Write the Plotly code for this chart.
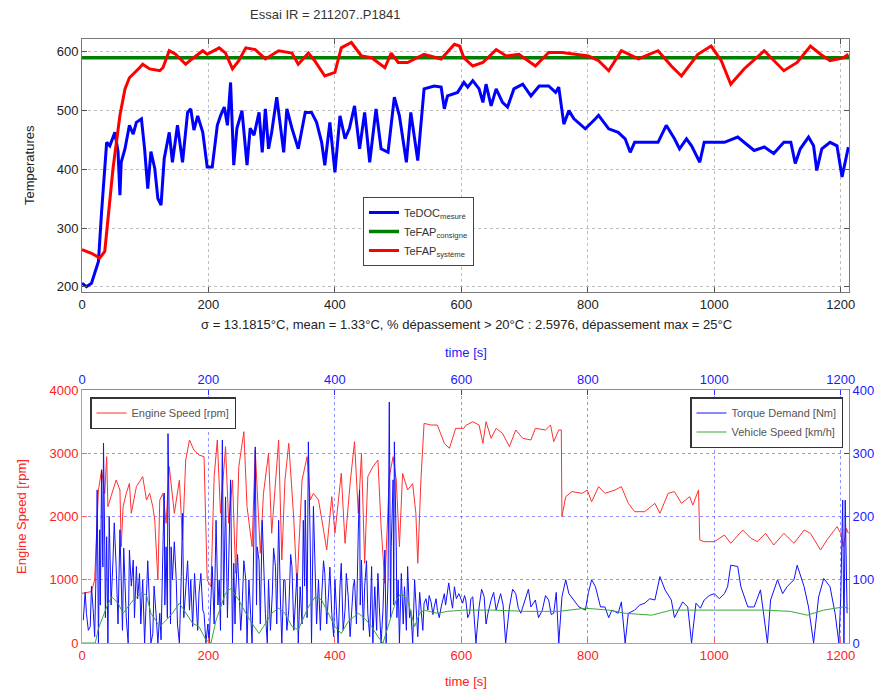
import plotly.graph_objects as go

# ---------------- Top plot data ----------------
doc_t = [0, 7, 15, 26, 31, 36, 39, 44, 52, 57, 60, 62, 68, 75, 81, 86, 94, 99, 104, 109, 115, 120, 125, 130, 138, 143,
         151, 159, 167, 172, 177, 183, 191, 198, 206, 214, 219, 225, 230, 235, 240, 245, 253, 261, 266, 272, 280, 285,
         290, 295, 300, 308, 314, 319, 324, 332, 342, 353, 363, 371, 379, 384, 392, 400, 408, 416, 423, 431, 439, 447,
         455, 465, 473, 484, 494, 502, 513, 520, 531, 541, 557, 568, 573, 578, 594, 604,
         610, 618, 628, 634, 639, 647, 655, 665, 673, 683, 697, 710, 723, 738, 749, 754, 762, 770, 778, 796, 812, 817,
         833, 848, 859, 867, 874, 890, 911, 924, 937, 945, 956, 964, 977, 984, 1000, 1016, 1037, 1053, 1063, 1079, 1094,
         1110, 1121, 1128, 1136, 1149, 1157, 1162, 1170, 1183, 1194, 1202, 1212]
doc_v = [206, 200, 206, 243, 328, 412, 446, 440, 463, 430, 356, 412, 435, 475, 460, 480, 486, 435, 367, 430, 402, 350,
         339, 418, 463, 412, 475, 412, 497, 503, 467, 491, 463, 404, 404, 475, 491, 506, 475, 548, 407, 470, 500, 407,
         470, 458, 497, 429, 503, 435, 463, 523, 470, 429, 503, 470, 435, 497, 497, 480, 446, 407, 480, 395, 491, 452,
         470, 508, 435, 497, 412, 503, 435, 429, 523, 491, 412, 497, 415, 537, 542, 540, 503, 525, 531, 548,
         540, 551, 537, 514, 545, 508, 537, 514, 506, 537, 545, 525, 542, 542, 531, 540, 477, 500, 486, 469, 486, 492,
         469, 463, 452, 429, 446, 446, 446, 475, 452, 435, 452, 440, 412, 446, 446, 446, 455, 440, 432, 438, 427,
         446, 446, 410, 435, 455, 440, 398, 435, 446, 440, 387, 438]

fap_cons_t = [0, 1213]
fap_cons_v = [590, 590]

fap_sys_t = [0, 15, 28, 36, 49, 60, 68, 75, 91, 96, 107, 123, 128, 138, 148, 164, 174, 191, 198, 217, 227, 238, 248,
             259, 274, 290, 311, 332, 342, 358, 368, 384, 400, 410, 426, 442, 458, 479, 489, 500, 515, 541, 568, 589,
             597, 604, 618, 634, 655, 671, 691, 717, 738, 759, 801, 817, 833, 853, 880, 911, 932, 948, 974, 995, 1011,
             1026, 1047, 1079, 1110, 1131, 1152, 1168, 1183, 1204, 1212]
fap_sys_v = [263, 257, 249, 260, 401, 492, 537, 556, 573, 579, 571, 568, 573, 602, 596, 579, 588, 602, 596, 607, 598,
             571, 585, 607, 604, 588, 602, 598, 579, 598, 585, 559, 565, 607, 616, 593, 590, 573, 598, 582, 582, 596,
             588, 613, 610, 590, 576, 582, 604, 593, 596, 576, 599, 599, 593, 585, 568, 602, 588, 602, 576, 559, 596,
             610, 585, 545, 571, 602, 568, 582, 610, 596, 585, 590, 596]

# ---------------- Bottom plot data ----------------
eng_t = [0, 2, 15, 20, 26, 31, 36, 39, 41, 49, 54, 60, 62, 65, 70, 75, 78, 86, 96, 102, 107, 112, 115, 120, 123, 128,
         133, 138, 146, 154, 159, 164, 170, 177, 185, 193, 198, 204, 209, 214, 219, 227, 232, 238, 243, 248, 256, 261,
         269, 274, 282, 287, 295, 300, 311, 316, 321, 327, 335, 340, 348, 356, 361, 366, 374, 382, 387, 395, 400, 410,
         416, 424, 431, 437, 442, 447, 452, 460, 468, 473, 479, 486, 492, 497, 502, 507, 515, 523, 528, 531, 536, 541,
         552, 562, 573, 581, 591, 604,
         607, 618, 628, 634, 639, 647, 655, 665, 676, 686, 697, 710, 717, 733, 741, 746, 754, 758, 759, 765, 775, 791,
         799, 806, 817, 827, 843, 853, 864, 874, 890, 906, 914, 927, 937, 948, 961, 966, 974, 975, 977, 984, 1000, 1016,
         1026, 1045, 1058, 1068, 1081, 1094, 1110, 1126, 1142, 1152, 1168, 1178, 1194, 1200, 1204, 1209, 1212]
eng_v = [785, 790, 812, 996, 2419, 2735, 2366, 2946, 2155, 2419, 2577, 2419, 1523, 2155, 2366, 2524, 2050, 2472, 2630,
         2260, 2366, 2155, 1945, 996, 2260, 2366, 1892, 2788, 2050, 2577, 1628, 2893, 3209, 3051, 2972, 2946, 996, 891,
         2630, 3209, 2050, 3104, 1892, 2577, 1101, 2788, 3341, 2155, 1523, 3051, 1418, 2366, 2999, 1734, 3209, 1312,
         2577, 3157, 1945, 891, 2577, 2946, 2260, 2366, 2260, 1786, 1470, 2314, 1734, 2682, 1576, 2524, 3183, 2050,
         2999, 1260, 2630, 2788, 2893, 1839, 943, 2630, 2946, 2577, 1523, 2682, 2419, 2519, 2050, 1260, 2577, 3473,
         3446, 3446, 3157, 3078, 3394, 3394,
         3440, 3499, 3446, 3157, 3499, 3236, 3394, 3315, 3104, 3368, 3236, 3210, 3394, 3368, 3446, 3183, 3368, 3368,
         1997, 2314, 2394, 2366, 2419, 2234, 2472, 2366, 2419, 2472, 2208, 2076, 2076, 2208, 2050, 2366, 2394, 2208,
         2314, 2180, 2419, 2419, 1628, 1602, 1602, 1707, 1576, 1786, 1655, 1602, 1734, 1549, 1734, 1576, 1786, 1734,
         1470, 1628, 1839, 1734, 1523, 1810, 1734]

torque_t = [2, 5, 7, 10, 13, 15, 18, 20, 22, 24, 26, 28, 29, 31, 33, 34, 36, 37, 39, 41, 43, 44, 46, 49, 51, 54, 57,
            60, 62, 64, 66, 68, 70, 73, 75, 78, 81, 83, 86, 88, 91, 93, 96, 99, 102, 104, 107, 109, 112, 114, 117, 120,
            123, 125, 128, 130, 131, 133, 135, 136, 138, 140, 141, 143, 146, 149, 151, 154, 157, 159, 161, 164, 167,
            170, 172, 175, 178, 180, 183, 185, 188, 191, 193, 196, 199, 201, 204, 206, 209, 212, 215, 217, 219, 222,
            224, 225, 227, 230, 232, 235, 238, 240, 242, 243, 246, 248, 251, 253, 256, 259, 261, 264, 267, 269, 272,
            274, 276, 277, 280, 282, 285, 288, 290, 293, 295, 298, 301, 303, 306, 308, 311, 314, 316, 319, 321, 324,
            327, 330, 332, 335, 337, 340, 342, 345, 348, 350, 352, 353, 356, 358, 361, 363, 366, 369, 371, 374, 377,
            379, 382, 384, 387, 390, 392, 395, 398, 400, 403, 405, 408, 410, 413, 416, 418, 421, 424, 426, 429, 431,
            434, 437, 439, 440, 442, 445, 447, 450, 452, 455, 458, 460, 463, 466, 468, 471, 473, 476, 479, 481, 484,
            486, 488, 489, 492, 493, 494, 497, 498, 500, 502, 505, 508, 510, 513, 515, 518, 520, 523, 526, 529, 531,
            534, 536, 539, 541, 544, 547, 549, 552, 555, 557, 560, 562, 565, 568, 570, 573, 575, 578, 580, 583, 586,
            589, 592, 596,
            602, 605, 607, 610, 613, 615, 618, 623, 628, 632, 636, 639, 642, 647, 651, 655, 662, 666, 670, 676, 681,
            686, 690, 694, 702, 706, 710, 717, 722, 728, 733, 738, 742, 746, 750, 754, 759, 765, 770, 778, 786, 796,
            801, 806, 812, 820, 827, 833, 838, 848, 853, 859, 864, 874, 882, 890, 898, 906, 914, 922, 932, 937, 943,
            950, 958, 964, 971, 978, 984, 992, 1000, 1008, 1016, 1021, 1026, 1037, 1042, 1053, 1063, 1068, 1073,
            1084, 1089, 1100, 1108, 1115, 1126, 1131, 1142, 1149, 1157, 1165, 1173, 1183, 1191, 1197, 1200, 1203,
            1205, 1207, 1210]
torque_v = [36, 80, 47, 20, 26, 90, 47, 10, 100, 242, 0, 179, 60, 274, 120, 316, 152, 40, 168, 0, 200, 142, 60, 131,
            190, 121, 30, 179, 110, 20, 150, 100, 40, 0, 147, 90, 131, 40, 121, 70, 110, 30, 100, 0, 89, 130, 52, 0,
            15, 90, 47, 0, 47, 5, 152, 237, 60, 152, 40, 331, 194, 30, 152, 100, 160, 100, 30, 0, 105, 205, 40, 79,
            130, 52, 100, 26, 110, 73, 20, 79, 110, 52, 47, 0, 30, 0, 79, 121, 30, 194, 60, 100, 20, 321, 60, 152,
            231, 40, 152, 258, 0, 126, 30, 79, 140, 94, 20, 52, 130, 100, 0, 100, 30, 0, 179, 310, 60, 152, 131, 30,
            194, 90, 47, 0, 100, 20, 79, 150, 121, 30, 194, 60, 0, 100, 100, 20, 52, 140, 121, 20, 57, 110, 0, 89,
            30, 194, 90, 226, 40, 318, 152, 0, 216, 115, 30, 100, 20, 73, 130, 110, 30, 79, 120, 47, 10, 100, 40, 0,
            90, 126, 20, 52, 110, 73, 10, 36, 90, 100, 30, 179, 242, 60, 131, 20, 89, 130, 47, 10, 121, 0, 89, 20,
            110, 40, 0, 52, 147, 0, 100, 381, 40, 152, 258, 60, 318, 152, 40, 100, 0, 110, 30, 89, 20, 121, 40, 52,
            0, 100, 30, 10, 80, 57, 20, 63, 70, 52, 75, 65, 45, 57, 70, 52, 40, 57, 65, 78, 60, 84, 95, 73, 55, 89,
            70, 78,
            63, 75, 68, 40, 47, 70, 73, 0, 57, 85, 73, 30, 47, 68, 80, 52, 78, 60, 0, 57, 85, 78, 55, 47, 73, 85, 57,
            68, 40, 52, 75, 68, 45, 47, 80, 0, 73, 100, 78, 68, 57, 52, 80, 100, 89, 57, 57, 40, 52, 47, 65, 0, 47,
            52, 60, 63, 70, 68, 105, 84, 68, 40, 52, 65, 57, 0, 63, 55, 68, 75, 78, 70, 78, 89, 123, 121, 89, 57, 57,
            70, 84, 0, 68, 100, 78, 89, 100, 123, 89, 57, 0, 73, 102, 89, 47, 0, 73, 226, 0, 226, 47]

veh_t = [0, 21, 26, 39, 47, 57, 65, 81, 94, 102, 109, 123, 133, 143, 154, 164, 175, 185, 196, 204, 212, 227, 235, 248,
         259, 269, 280, 287, 300, 311, 321, 332, 342, 358, 369, 379, 390, 400, 410, 421, 437, 447, 458, 468, 476, 484,
         497, 505, 515, 526, 534, 541, 562, 578, 604,
         650, 702, 754, 796, 833, 859, 901, 932, 964, 1000, 1042, 1079, 1120, 1147, 1173, 1204, 1212]
veh_v = [0, 0, 23, 57, 73, 63, 47, 68, 79, 76, 47, 26, 36, 47, 63, 47, 31, 26, 5, 0, 36, 79, 86, 68, 47, 31, 15, 26, 47,
         55, 47, 26, 21, 57, 73, 68, 47, 26, 15, 34, 47, 39, 26, 10, 0, 26, 68, 79, 68, 26, 47, 52, 47, 50, 52,
         52, 50, 50, 55, 52, 47, 44, 52, 52, 52, 52, 52, 50, 44, 52, 57, 55]

x_ticks = [0, 200, 400, 600, 800, 1000, 1200]
temp_ticks = [200, 300, 400, 500, 600]
rpm_ticks = [0, 1000, 2000, 3000, 4000]
nm_ticks = [0, 100, 200, 300, 400]

FONT = "Liberation Sans"
OFF = 8  # the page body adds an 8px margin
W, H = 893 - OFF, 692 - OFF


def px(x):
    return (x - OFF) / W


def py(y):
    return 1 - (y - OFF) / H


fig = go.Figure()

# top plot
fig.add_trace(go.Scatter(x=doc_t, y=doc_v, mode="lines", line=dict(color="#0000ff", width=3),
                         name="TeDOC<sub>mesuré</sub>", xaxis="x", yaxis="y", legend="legend"))
fig.add_trace(go.Scatter(x=fap_cons_t, y=fap_cons_v, mode="lines", line=dict(color="#008000", width=3.5),
                         name="TeFAP<sub>consigne</sub>", xaxis="x", yaxis="y", legend="legend"))
fig.add_trace(go.Scatter(x=fap_sys_t, y=fap_sys_v, mode="lines", line=dict(color="#ff0000", width=3),
                         name="TeFAP<sub>système</sub>", xaxis="x", yaxis="y", legend="legend"))

# bottom plot
fig.add_trace(go.Scatter(x=eng_t, y=eng_v, mode="lines", line=dict(color="#ff3030", width=1),
                         name="Engine Speed [rpm]", xaxis="x2", yaxis="y2", legend="legend2"))
fig.add_trace(go.Scatter(x=torque_t, y=torque_v, mode="lines", line=dict(color="#1010ff", width=1),
                         name="Torque Demand [Nm]", xaxis="x3", yaxis="y3", legend="legend3"))
fig.add_trace(go.Scatter(x=veh_t, y=veh_v, mode="lines", line=dict(color="#3aa83a", width=1),
                         name="Vehicle Speed [km/h]", xaxis="x3", yaxis="y3", legend="legend3"))

tickfont = dict(family=FONT, size=13, color="#222")
dom_x = [px(82), px(849)]
top_y = [py(292), py(39)]
bot_y = [py(643), py(390)]

fig.update_layout(
    width=W, height=H, margin=dict(l=0, r=0, t=0, b=0, autoexpand=False),
    paper_bgcolor="white", plot_bgcolor="white",
    font=dict(family=FONT, size=13, color="#222"),
    xaxis=dict(domain=dom_x, anchor="y", range=[0, 1213], tickvals=x_ticks, ticks="inside", ticklen=5,
               tickcolor="#555", showline=True, linecolor="#777", mirror="ticks", showgrid=True,
               gridcolor="#bdbdbd", griddash="dot", zeroline=False, tickfont=tickfont, automargin=False),
    yaxis=dict(domain=top_y, anchor="x", range=[191, 622], tickvals=temp_ticks, ticks="inside", ticklen=5,
               tickcolor="#555", showline=True, linecolor="#777", mirror="ticks", showgrid=True,
               gridcolor="#bdbdbd", griddash="dot", zeroline=False, tickfont=tickfont, automargin=False),
    xaxis2=dict(domain=dom_x, anchor="y2", range=[0, 1213], tickvals=x_ticks, ticks="inside", ticklen=5,
                tickcolor="#ff6060", showline=True, linecolor="#ff8080", showgrid=False, zeroline=False,
                tickfont=dict(family=FONT, size=13, color="#ff2020"), automargin=False),
    yaxis2=dict(domain=bot_y, anchor="x2", range=[0, 4000], tickvals=rpm_ticks, ticks="inside", ticklen=5,
                tickcolor="#ff6060", showline=True, linecolor="#ff8080", showgrid=False, zeroline=False,
                tickfont=dict(family=FONT, size=13, color="#ff2020"), automargin=False),
    xaxis3=dict(overlaying="x2", anchor="y3", side="top", range=[0, 1213], tickvals=x_ticks, ticks="inside",
                ticklen=5, tickcolor="#3030ff", showline=True, linecolor="#8080ff", showgrid=True,
                gridcolor="rgba(60,60,255,0.55)", griddash="dot", zeroline=False,
                tickfont=dict(family=FONT, size=13, color="#1a1aff"), automargin=False),
    yaxis3=dict(overlaying="y2", anchor="x3", side="right", range=[0, 400], tickvals=nm_ticks, ticks="inside",
                ticklen=5, tickcolor="#3030ff", showline=True, linecolor="#8080ff", showgrid=True,
                gridcolor="rgba(60,60,255,0.55)", griddash="dot", zeroline=False,
                tickfont=dict(family=FONT, size=13, color="#1a1aff"), automargin=False),
    legend=dict(x=px(363), y=py(197), xanchor="left", yanchor="top", bgcolor="white", bordercolor="#444",
                borderwidth=1, font=dict(family=FONT, size=11, color="#333"), tracegroupgap=0),
    legend2=dict(x=px(90), y=py(397), xanchor="left", yanchor="top", bgcolor="white", bordercolor="#333",
                 borderwidth=1.5, font=dict(family=FONT, size=11, color="#555")),
    legend3=dict(x=px(843), y=py(397), xanchor="right", yanchor="top", bgcolor="white", bordercolor="#333",
                 borderwidth=1.5, font=dict(family=FONT, size=11, color="#555")),
    showlegend=True,
)

annots = [
    dict(text="Essai IR = 211207..P1841", x=px(248), y=py(15), xanchor="left", yanchor="middle",
         font=dict(size=13, color="#333")),
    dict(text="Temperatures", x=px(30), y=py(165), textangle=-90, xanchor="center", yanchor="middle",
         font=dict(size=13, color="#222")),
    dict(text="σ = 13.1815°C, mean = 1.33°C, % dépassement > 20°C : 2.5976, dépassement max = 25°C",
         x=px(466), y=py(324), xanchor="center", yanchor="middle", font=dict(size=13, color="#222")),
    dict(text="time [s]", x=px(466), y=py(352), xanchor="center", yanchor="middle",
         font=dict(size=13, color="#1a1aff")),
    dict(text="Engine Speed [rpm]", x=px(22), y=py(517), textangle=-90, xanchor="center", yanchor="middle",
         font=dict(size=13, color="#ff2020")),
    dict(text="time [s]", x=px(466), y=py(681), xanchor="center", yanchor="middle",
         font=dict(size=13, color="#ff2020")),
]
for a in annots:
    a.update(xref="paper", yref="paper", showarrow=False)
    a["font"]["family"] = FONT
fig.update_layout(annotations=annots)

fig.write_html("out.html")
